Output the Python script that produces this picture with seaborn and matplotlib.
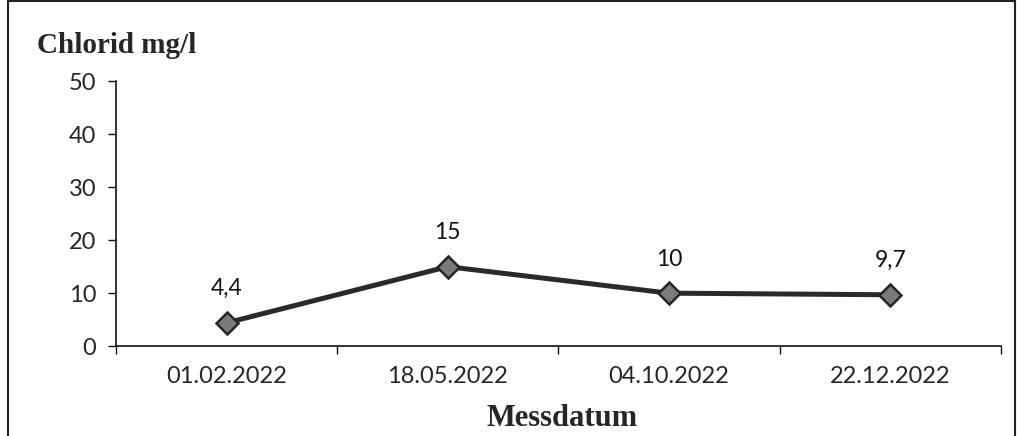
import matplotlib
matplotlib.use("Agg")
import matplotlib.pyplot as plt
import matplotlib.patches as mpatches
import seaborn as sns
import pandas as pd
import numpy as np

# data
dates = ["01.02.2022", "18.05.2022", "04.10.2022", "22.12.2022"]
chlorid = [4.4, 15, 10, 9.7]
labels = ["4,4", "15", "10", "9,7"]

df = pd.DataFrame({"Messdatum": dates, "Chlorid": chlorid})

sns.set_theme(style="white")
plt.rcParams['font.family'] = ['Lato', 'DejaVu Sans']

fig = plt.figure(figsize=(10.17, 4.36), dpi=100)
ax = fig.add_axes([0.114, 0.206, 0.870, 0.608])

sns.lineplot(data=df, x="Messdatum", y="Chlorid", ax=ax,
             color="#2a2a2a", linewidth=3.6, marker="D", markersize=11,
             markerfacecolor="#7a7a7a", markeredgecolor="#262626",
             markeredgewidth=1.8)

for i, (v, t) in enumerate(zip(chlorid, labels)):
    ax.annotate(t, (i, v), xytext=(0, 17), textcoords="offset points",
                ha="center", va="bottom", fontsize=16.5, color="#111111")

ax.set_xlim(-0.5, 3.5)
ax.set_ylim(0, 50)
ax.set_yticks([0, 10, 20, 30, 40, 50])
ax.set_xticks(range(4))
ax.set_xticklabels(dates)
ax.set_xticks(np.arange(-0.5, 4, 1), minor=True)
ax.tick_params(axis="x", which="major", length=0, labelsize=17, pad=14)
ax.tick_params(axis="x", which="minor", length=6, width=1, direction="out",
               bottom=True, color="#111111")
ax.tick_params(axis="y", length=6, width=1, direction="out", left=True,
               labelsize=17, pad=8, color="#111111")

sns.despine(ax=ax)
for s in ["left", "bottom"]:
    ax.spines[s].set_color("#111111")
    ax.spines[s].set_linewidth(1.2)

ax.set_xlabel("")
ax.set_ylabel("")
fig.text(0.553, 0.04, "Messdatum", ha="center", va="center",
         family="Liberation Serif", fontweight="bold", fontsize=22)
fig.text(0.036, 0.895, "Chlorid mg/l", ha="left", va="center",
         family="Liberation Serif", fontweight="bold", fontsize=21)

# outer frame
fig.patches.append(mpatches.Rectangle((0.008, -0.01), 0.99, 1.008,
                                      transform=fig.transFigure, fill=False,
                                      edgecolor="#222222", linewidth=1.5))

fig.savefig("out.png", dpi=100)
